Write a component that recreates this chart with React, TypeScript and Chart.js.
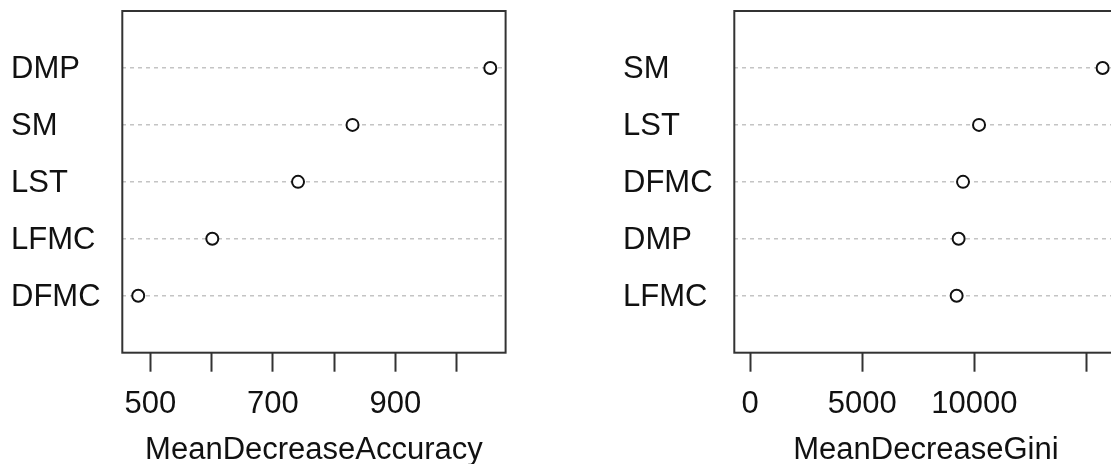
import React, { useEffect, useRef } from "react";
import { Chart, registerables } from "chart.js";

Chart.register(...registerables);

// ---- Data (top-to-bottom order as shown) ----
const accLabels = ["DMP", "SM", "LST", "LFMC", "DFMC"];
const accValues = [1055, 830, 741, 601, 480];
const accTicks = [500, 600, 700, 800, 900, 1000];
const accTickLabels = [500, 700, 900];
const accRange = [454, 1080];
const accTitle = "MeanDecreaseAccuracy";

const giniLabels = ["SM", "LST", "DFMC", "DMP", "LFMC"];
const giniValues = [15718, 10208, 9495, 9299, 9210];
const giniTicks = [0, 5000, 10000, 15000];
const giniTickLabels = [0, 5000, 10000];
const giniRange = [-700, 16385];
const giniTitle = "MeanDecreaseGini";

const FONT = "'Liberation Sans', Arial, Helvetica, sans-serif";
const TEXT = "#111111";
const LINE = "#333333";

const boxPlugin = {
  id: "rbox",
  afterDraw(chart: any) {
    const { ctx, chartArea } = chart;
    ctx.save();
    ctx.strokeStyle = LINE;
    ctx.lineWidth = 2;
    ctx.strokeRect(chartArea.left, chartArea.top, chartArea.right - chartArea.left, chartArea.bottom - chartArea.top);
    ctx.restore();
  },
};

function makeConfig(labels: string[], values: number[], ticks: number[], tickLabels: number[], range: number[], title: string) {
  const n = labels.length;
  const points = values.map((v, i) => ({ x: v, y: n - i }));
  const yPositions = labels.map((_, i) => n - i);
  return {
    type: "scatter" as const,
    data: {
      datasets: [
        {
          data: points,
          pointRadius: 6,
          pointHoverRadius: 6,
          pointBorderWidth: 2,
          pointBorderColor: "#111111",
          pointBackgroundColor: "#ffffff",
          showLine: false,
        },
      ],
    },
    plugins: [boxPlugin],
    options: {
      animation: false,
      responsive: false,
      layout: { padding: { left: 11, right: 34.4, top: 11, bottom: 0 } },
      plugins: { legend: { display: false }, tooltip: { enabled: false } },
      scales: {
        x: {
          type: "linear",
          min: range[0],
          max: range[1],
          afterBuildTicks: (s: any) => {
            s.ticks = ticks.map((v) => ({ value: v }));
          },
          afterFit: (s: any) => {
            s.height = 111.3;
            s.paddingLeft = 0;
            s.paddingRight = 0;
          },
          border: { display: false },
          grid: {
            drawOnChartArea: false,
            drawTicks: true,
            tickLength: 19,
            tickColor: LINE,
            tickWidth: 2,
          },
          ticks: {
            autoSkip: false,
            maxRotation: 0,
            padding: 17,
            color: TEXT,
            font: { family: FONT, size: 31, lineHeight: 1 },
            callback: (v: any) => (tickLabels.includes(Number(v)) ? String(v) : ""),
          },
          title: {
            display: true,
            text: title,
            color: TEXT,
            padding: { top: 0, bottom: -2 },
            font: { family: FONT, size: 31, lineHeight: 1 },
          },
        },
        y: {
          type: "linear",
          min: 0,
          max: n + 1,
          afterBuildTicks: (s: any) => {
            s.ticks = yPositions.map((v) => ({ value: v }));
          },
          afterFit: (s: any) => {
            s.width = 111.3;
            s.paddingTop = 0;
            s.paddingBottom = 0;
          },
          border: { display: false, dash: [4, 4] },
          grid: {
            drawTicks: false,
            tickLength: 0,
            color: "#c4c4c4",
            lineWidth: 1.5,
          },
          ticks: {
            autoSkip: false,
            crossAlign: "far",
            padding: 0,
            labelOffset: 2,
            color: TEXT,
            font: { family: FONT, size: 31, lineHeight: 1 },
            callback: (v: any) => labels[n - Number(v)] ?? "",
          },
        },
      },
    },
  };
}

function Panel({ cfg, left }: { cfg: any; left: number }) {
  const ref = useRef<HTMLCanvasElement | null>(null);
  useEffect(() => {
    if (!ref.current) return;
    const chart = new Chart(ref.current, cfg);
    return () => chart.destroy();
  }, [cfg]);
  return (
    <canvas
      ref={ref}
      width={540}
      height={464}
      style={{ position: "absolute", left, top: 0, width: 540, height: 464, display: "block" }}
    />
  );
}

const accCfg = makeConfig(accLabels, accValues, accTicks, accTickLabels, accRange, accTitle);
const giniCfg = makeConfig(giniLabels, giniValues, giniTicks, giniTickLabels, giniRange, giniTitle);

export default function App() {
  return (
    <div
      style={{
        position: "absolute",
        left: 0,
        top: 0,
        width: 1111,
        height: 464,
        overflow: "hidden",
        background: "#ffffff",
      }}
    >
      <Panel cfg={accCfg} left={0} />
      <Panel cfg={giniCfg} left={612} />
    </div>
  );
}
